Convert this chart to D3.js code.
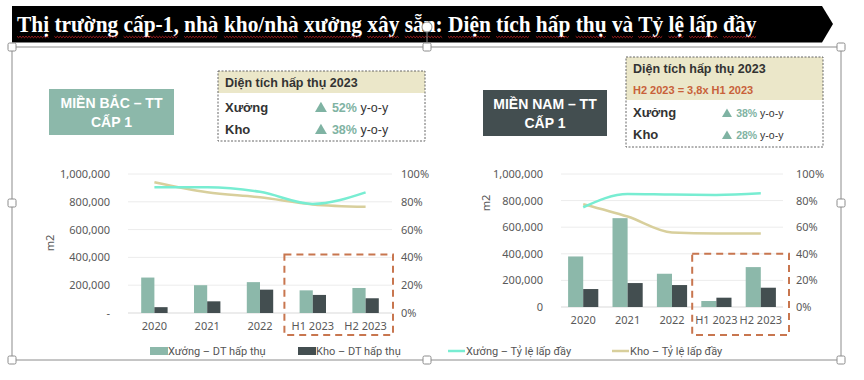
<!DOCTYPE html>
<html>
<head>
<meta charset="utf-8">
<script src="https://cdn.jsdelivr.net/npm/d3@7"></script>
<style>
  body { margin: 0; background: #fff; }
  #main { width: 864px; height: 380px; }
</style>
</head>
<body>
<div id="main"></div>
<script>
// ---------------- data ----------------
const categories = ["2020", "2021", "2022", "H1 2023", "H2 2023"];

const northXuong = [255000, 200000, 222000, 163000, 180000];
const northKho = [42000, 84000, 168000, 130000, 106000];
const northXuongOcc = [0.905, 0.905, 0.872, 0.785, 0.868];
const northKhoOcc = [0.94, 0.868, 0.832, 0.781, 0.764];

const southXuong = [380000, 668000, 250000, 45000, 300000];
const southKho = [135000, 180000, 165000, 70000, 145000];
const southXuongOcc = [0.75, 0.85, 0.845, 0.843, 0.855];
const southKhoOcc = [0.773, 0.68, 0.56, 0.553, 0.553];

const areaTicks = [0, 200000, 400000, 600000, 800000, 1000000];
const occTicks = [0, 0.2, 0.4, 0.6, 0.8, 1.0];

const legendLabels = ["Xưởng – DT hấp thụ", "Kho – DT hấp thụ", "Xưởng – Tỷ lệ lấp đầy", "Kho – Tỷ lệ lấp đầy"];
const titleText = "Thị trường cấp-1, nhà kho/nhà xưởng xây sẵn: Diện tích hấp thụ và Tỷ lệ lấp đầy";

const colXuong = "#8cb8aa", colKho = "#434e50";
const colXuongLine = "#78edd2", colKhoLine = "#d8cf9c";
const tickColor = "#595959";

const width = 864, height = 380;
const svg = d3.select("#main").append("svg")
  .attr("width", width).attr("height", height)
  .style("background", "#fff");

// ---------------- title banner ----------------
svg.append("path")
  .attr("d", "M12,6 L822,6 L833,24 L822,42.5 L12,42.5 Z")
  .attr("fill", "#000");

const titleG = svg.append("g");
const title = titleG.append("text")
  .attr("x", 0).attr("y", 0)
  .attr("fill", "#fff")
  .style("font-family", "'Liberation Serif', serif")
  .style("font-weight", "bold")
  .style("font-size", "23px")
  .text(titleText);
// squeeze horizontally to the width in the reference
const tw = title.node().getComputedTextLength();
const sx = 740 / tw;
titleG.attr("transform", `translate(17,32) scale(${sx},1)`);

// spell-check squiggles under each word
(function () {
  const node = title.node();
  let idx = 0;
  titleText.split(" ").forEach((w) => {
    const start = 17 + node.getStartPositionOfChar(idx).x * sx;
    const len = node.getSubStringLength(idx, w.length) * sx;
    let d = "";
    for (let x = start, k = 0; x <= start + len; x += 1.5, k++) {
      d += (k === 0 ? "M" : "L") + x.toFixed(1) + "," + (36.5 + (k % 2 ? 1.2 : -0.2));
    }
    svg.append("path").attr("d", d).attr("fill", "none")
      .attr("stroke", "#d42a2a").attr("stroke-width", 0.8);
    idx += w.length + 1;
  });
})();

// ---------------- panels ----------------
function drawPanel(cfg) {
  const g = svg.append("g");

  const x = d3.scaleBand().domain(categories).range([cfg.x0, cfg.x1]).padding(0);
  const inner = d3.scaleBand().domain(["xuong", "kho"])
    .range([0, x.bandwidth() * cfg.groupFrac]);
  const y = d3.scaleLinear().domain([0, 1000000]).range([cfg.yBot, cfg.yTop]);
  const yR = d3.scaleLinear().domain([0, 1]).range([cfg.yBot, cfg.yTop]);

  // gridlines
  g.selectAll(".grid").data(areaTicks).join("line")
    .attr("x1", cfg.x0).attr("x2", cfg.x1)
    .attr("y1", (d) => y(d)).attr("y2", (d) => y(d))
    .attr("stroke", (d) => (d === 0 ? "#d9d9d9" : "#ececec"))
    .attr("stroke-width", 1);

  // left axis
  const axL = g.append("g").attr("transform", `translate(${cfg.x0 - 15},0)`)
    .call(d3.axisLeft(y).tickValues(areaTicks).tickSize(0)
      .tickFormat((d) => (d === 0 ? cfg.zeroLabel : d3.format(",")(d))));
  axL.select(".domain").remove();

  // right axis
  const axR = g.append("g").attr("transform", `translate(${cfg.rightLabelX - 2},0)`)
    .call(d3.axisRight(yR).tickValues(occTicks).tickSize(0).tickFormat(d3.format(".0%")));
  axR.select(".domain").remove();

  // category axis
  const axB = g.append("g").attr("transform", `translate(0,${cfg.yBot + 6})`)
    .call(d3.axisBottom(x).tickSize(0));
  axB.select(".domain").remove();

  g.selectAll(".tick text")
    .attr("fill", tickColor)
    .style("font-family", "'Noto Sans', sans-serif")
    .style("font-size", "11px");

  // m2 label
  g.append("text")
    .attr("transform", `translate(${cfg.m2X},${cfg.m2Y}) rotate(-90)`)
    .attr("text-anchor", "middle")
    .attr("fill", tickColor)
    .style("font-family", "'Noto Sans', sans-serif")
    .style("font-size", "11px")
    .text("m2");

  // bars
  const groupOff = (x.bandwidth() - inner.range()[1]) / 2;
  const bars = [
    { key: "xuong", vals: cfg.xuong, color: colXuong },
    { key: "kho", vals: cfg.kho, color: colKho },
  ];
  bars.forEach((s) => {
    g.selectAll(".bar-" + s.key).data(s.vals).join("rect")
      .attr("x", (d, i) => x(categories[i]) + groupOff + inner(s.key))
      .attr("width", inner.bandwidth())
      .attr("y", (d) => y(d))
      .attr("height", (d) => y(0) - y(d))
      .attr("fill", s.color);
  });

  // occupancy lines
  const line = d3.line()
    .x((d, i) => x(categories[i]) + x.bandwidth() / 2)
    .y((d) => yR(d))
    .curve(d3.curveMonotoneX);
  g.append("path").datum(cfg.khoOcc).attr("d", line)
    .attr("fill", "none").attr("stroke", colKhoLine).attr("stroke-width", 2.5);
  g.append("path").datum(cfg.xuongOcc).attr("d", line)
    .attr("fill", "none").attr("stroke", colXuongLine).attr("stroke-width", 2.5);

  // dashed highlight around 2023
  const bx = x("H1 2023") - 2;
  const bRight = cfg.x1 + cfg.boxExtra;
  g.append("rect")
    .attr("x", bx).attr("y", yR(0.4) - cfg.boxTopAdj)
    .attr("width", bRight - bx)
    .attr("height", 335 - (yR(0.4) - cfg.boxTopAdj))
    .attr("fill", "none")
    .attr("stroke", "#c8764f").attr("stroke-width", 2)
    .attr("stroke-dasharray", "7,5");
}

drawPanel({
  x0: 128, x1: 392, yTop: 174, yBot: 313, zeroLabel: "-",
  rightLabelX: 400, m2X: 54, m2Y: 243, groupFrac: 0.5, boxExtra: 1, boxTopAdj: 3,
  xuong: northXuong, kho: northKho, xuongOcc: northXuongOcc, khoOcc: northKhoOcc,
});

drawPanel({
  x0: 561, x1: 783, yTop: 174, yBot: 307, zeroLabel: "0",
  rightLabelX: 795, m2X: 490, m2Y: 203, groupFrac: 0.68, boxExtra: 6, boxTopAdj: 0,
  xuong: southXuong, kho: southKho, xuongOcc: southXuongOcc, khoOcc: southKhoOcc,
});

// ---------------- region tags ----------------
function regionTag(x0, y0, w, h, fill, lines) {
  svg.append("rect").attr("x", x0).attr("y", y0).attr("width", w).attr("height", h).attr("fill", fill);
  lines.forEach((t, i) => {
    svg.append("text")
      .attr("x", x0 + w / 2).attr("y", y0 + 19 + i * 19)
      .attr("text-anchor", "middle")
      .attr("fill", "#fff")
      .style("font-family", "'Liberation Sans', Arial, sans-serif")
      .style("font-weight", "bold")
      .style("font-size", "14px")
      .text(t);
  });
}
regionTag(49, 89, 125, 46, "#8cb8aa", ["MIỀN BẮC – TT", "CẤP 1"]);
regionTag(483, 90, 124, 46, "#434e50", ["MIỀN NAM – TT", "CẤP 1"]);

// ---------------- info boxes ----------------
const sans = "'Liberation Sans', Arial, sans-serif";
function infoBox(b) {
  const g = svg.append("g");
  g.append("rect").attr("x", b.x).attr("y", b.y).attr("width", b.w).attr("height", b.headH)
    .attr("fill", "#ebe7c9");
  g.append("rect").attr("x", b.x).attr("y", b.y).attr("width", b.w).attr("height", b.h)
    .attr("fill", "none").attr("stroke", "#666").attr("stroke-width", 1)
    .attr("stroke-dasharray", "2,1.5");
  g.append("text").attr("x", b.x + 7).attr("y", b.y + 16)
    .attr("fill", "#333").style("font-family", sans).style("font-weight", "bold")
    .style("font-size", "12.5px").text("Diện tích hấp thụ 2023");
  if (b.note) {
    g.append("text").attr("x", b.x + 7).attr("y", b.y + 37)
      .attr("fill", "#c8613a").style("font-family", sans).style("font-weight", "bold")
      .style("font-size", "11px").text(b.note);
  }
  b.rows.forEach((r, i) => {
    const yy = b.rowY[i];
    g.append("text").attr("x", b.x + 7).attr("y", yy)
      .attr("fill", "#333").style("font-family", sans).style("font-weight", "bold")
      .style("font-size", "13px").text(r.label);
    const s = b.valSize;
    g.append("path")
      .attr("d", `M${b.valX},${yy} L${b.valX + s * 0.95},${yy} L${b.valX + s * 0.475},${yy - s * 0.82} Z`)
      .attr("fill", "#7fb3a3");
    const t = g.append("text").attr("x", b.valX + s * 1.35).attr("y", yy)
      .style("font-family", sans).style("font-size", s + "px");
    t.append("tspan").attr("fill", "#7fb3a3").style("font-weight", "bold").text(r.pct);
    t.append("tspan").attr("fill", "#333").text(" y-o-y");
  });
}
infoBox({
  x: 218, y: 71, w: 207, h: 70, headH: 22,
  rowY: [112, 134], valX: 315, valSize: 12.5,
  rows: [{ label: "Xưởng", pct: "52%" }, { label: "Kho", pct: "38%" }],
});
infoBox({
  x: 626, y: 57, w: 197, h: 90, headH: 43, note: "H2 2023 = 3,8x H1 2023",
  rowY: [117, 139], valX: 722, valSize: 10.5,
  rows: [{ label: "Xưởng", pct: "38%" }, { label: "Kho", pct: "28%" }],
});

// ---------------- legend ----------------
const legendX = [150, 298, 448, 612];
const legendG = svg.append("g");
legendLabels.forEach((lab, i) => {
  const lx = legendX[i];
  if (i < 2) {
    legendG.append("rect").attr("x", lx).attr("y", 347).attr("width", 18).attr("height", 8)
      .attr("fill", i === 0 ? colXuong : colKho);
  } else {
    legendG.append("line").attr("x1", lx).attr("x2", lx + 17).attr("y1", 351).attr("y2", 351)
      .attr("stroke", i === 2 ? colXuongLine : colKhoLine).attr("stroke-width", 2.5);
  }
  legendG.append("text").attr("x", lx + 18).attr("y", 355)
    .attr("fill", "#555").style("font-family", "Roboto, sans-serif")
    .style("font-size", "11px").text(lab);
});

// ---------------- selection frame ----------------
const frame = svg.append("g");
frame.append("rect").attr("x", 12).attr("y", 47).attr("width", 829).attr("height", 313)
  .attr("fill", "none").attr("stroke", "#8c8c8c").attr("stroke-width", 1);
frame.append("line").attr("x1", 427).attr("x2", 427).attr("y1", 32).attr("y2", 43)
  .attr("stroke", "#8c8c8c");
frame.append("circle").attr("cx", 427).attr("cy", 27).attr("r", 5)
  .attr("fill", "#fff").attr("stroke", "#8c8c8c");
const handles = [[12, 47], [427, 47], [841, 47], [12, 203], [841, 203], [12, 360], [427, 360], [841, 360]];
frame.selectAll(".h").data(handles).join("rect")
  .attr("x", (d) => d[0] - 4).attr("y", (d) => d[1] - 4)
  .attr("width", 8).attr("height", 8).attr("rx", 1.5)
  .attr("fill", "#fff").attr("stroke", "#8c8c8c");
</script>
</body>
</html>
